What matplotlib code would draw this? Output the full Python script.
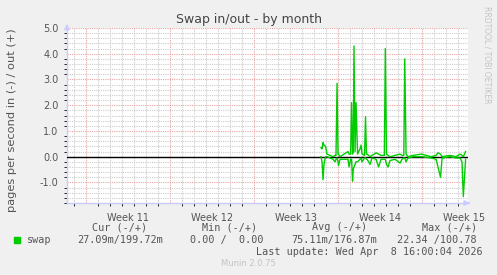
import numpy as np
import matplotlib.pyplot as plt
from matplotlib.ticker import MultipleLocator

# time in days since the start of week 11
days = [19.58, 19.67, 19.75, 19.83, 19.96, 20.08, 20.58, 20.75, 20.83, 20.92,
        21.0, 21.04, 21.17, 21.83, 21.92, 22.05, 22.13, 22.21, 22.27, 22.33,
        22.42, 22.5, 22.63, 22.83, 22.92, 23.0, 23.21, 23.29, 23.37, 23.42,
        23.67, 23.83, 24.17, 24.38, 24.58, 24.86, 24.94, 25.04, 25.17, 25.33,
        25.75, 26.17, 26.33, 26.48, 26.56, 26.67, 26.83, 27.25, 27.96, 28.75,
        29.17, 29.33, 29.54, 29.67, 30.33, 30.83, 31.17, 31.33, 31.44, 31.63]
swap_out = [0.35, 0.3, 0.55, 0.45, 0.4, 0.1, 0.0, 0.05, 0.05, 2.85,
            0.1, 0.1, 0.0, 0.2, 0.1, 0.1, 2.1, 0.1, 0.2, 4.3,
            0.2, 2.1, 0.1, 0.3, 0.45, 0.1, 0.05, 1.55, 0.1, 0.1,
            0.0, 0.05, 0.15, 0.1, 0.05, 0.05, 4.2, 0.1, 0.05, 0.0,
            0.05, 0.1, 0.05, 0.05, 3.8, 0.1, 0.0, 0.05, 0.1, 0.0,
            0.05, 0.15, 0.1, 0.0, 0.05, 0.0, 0.1, 0.05, 0.0, 0.2]
swap_in = [0.0, 0.2, 0.9, 0.3, 0.0, 0.0, 0.1, 0.2, 0.1, 0.05,
           0.2, 0.35, 0.1, 0.1, 0.4, 0.1, 0.1, 0.95, 0.5, 0.4,
           0.3, 0.2, 0.2, 0.1, 0.05, 0.2, 0.05, 0.05, 0.1, 0.1,
           0.3, 0.05, 0.1, 0.4, 0.1, 0.1, 0.1, 0.3, 0.4, 0.15,
           0.1, 0.25, 0.1, 0.05, 0.05, 0.2, 0.05, 0.0, 0.0, 0.05,
           0.1, 0.4, 0.8, 0.05, 0.0, 0.05, 0.05, 0.2, 1.55, 0.1]

week_labels = ['Week 11', 'Week 12', 'Week 13', 'Week 14', 'Week 15']
y_ticks = [-1.0, 0.0, 1.0, 2.0, 3.0, 4.0, 5.0]

txt = '#555555'
mono = 'DejaVu Sans Mono'

fig = plt.figure(figsize=(4.97, 2.75), dpi=100, facecolor='#f0f0f0')
ax = fig.add_axes([67 / 497, 1 - 203 / 275, 401 / 497, 175 / 275])
ax.set_facecolor('white')
ax.set_xlim(-1.583, 31.83)
ax.set_ylim(-1.8, 5.0)

# grid
ax.xaxis.set_minor_locator(MultipleLocator(1))
ax.yaxis.set_minor_locator(MultipleLocator(0.2))
ax.set_xticks([0, 7, 14, 21, 28])
ax.set_yticks(y_ticks)
ax.grid(which='minor', color='#cccccc', linestyle=(0, (1, 1)), lw=0.8)
ax.grid(which='major', color='#eaa4a4', linestyle=(0, (1, 1)), lw=0.8)
ax.set_axisbelow(True)

ax.axhline(0, color='black', lw=1.0, zorder=3)
ax.plot(days, swap_out, color='#00cc00', lw=1.0, zorder=4)
ax.plot(days, -np.array(swap_in), color='#00cc00', lw=1.0, zorder=4)

for s in ['top', 'right']:
    ax.spines[s].set_visible(False)
for s in ['left', 'bottom']:
    ax.spines[s].set_color('#c8ccff')
    ax.spines[s].set_linewidth(1.0)
ax.annotate('', xy=(0, 1.04), xytext=(0, 0.98), xycoords='axes fraction',
            arrowprops=dict(arrowstyle='-|>', color='#c8ccff', lw=1, mutation_scale=8),
            annotation_clip=False)
ax.annotate('', xy=(1.012, 0), xytext=(0.995, 0), xycoords='axes fraction',
            arrowprops=dict(arrowstyle='-|>', color='#c8ccff', lw=1, mutation_scale=8),
            annotation_clip=False)

ax.tick_params(length=0, labelsize=7, colors=txt, pad=6)
ax.set_xticklabels([])
ax.set_yticklabels(['%.1f' % v for v in y_ticks])
for i, lab in enumerate(week_labels):
    ax.text(3.5 + 7 * i, -0.055, lab, transform=ax.get_xaxis_transform(),
            ha='center', va='top', fontsize=7, color=txt)

fig.text(0.5, 1 - 19 / 275, 'Swap in/out - by month', ha='center', va='center',
         fontsize=9, color='#444444')
fig.text(12 / 497, 1 - 120 / 275, 'pages per second in (-) / out (+)',
         rotation=90, ha='center', va='center', fontsize=8.2, color=txt)
fig.text(487 / 497, 1 - 6 / 275, 'RRDTOOL / TOBI OETIKER', rotation=270,
         ha='center', va='top', fontsize=5.5, color='#c4c4c4')

# legend block
fs = 7.3
hy = 1 - 227 / 275
ry = 1 - 240 / 275
for cx, head in [(120, 'Cur (-/+)'), (230, 'Min (-/+)'),
                 (340, 'Avg (-/+)'), (450, 'Max (-/+)')]:
    fig.text(cx / 497, hy, head, ha='center', va='center', family=mono,
             fontsize=fs, color=txt)
for x0, val in [(163, '27.09m/199.72m'), (263, '0.00 /  0.00'),
                (377, '75.11m/176.87m'), (477, '22.34 /100.78')]:
    fig.text(x0 / 497, ry, val, ha='right', va='center', family=mono,
             fontsize=fs, color=txt)
fig.patches.append(plt.Rectangle((14 / 497, 1 - 243 / 275), 6 / 497, 6 / 275,
                                 transform=fig.transFigure, color='#00cc00'))
fig.text(27 / 497, ry, 'swap', ha='left', va='center', family=mono,
         fontsize=fs, color=txt)
fig.text(483 / 497, 1 - 252 / 275, 'Last update: Wed Apr  8 16:00:04 2026',
         ha='right', va='center', family=mono, fontsize=fs, color=txt)
fig.text(248 / 497, 1 - 264 / 275, 'Munin 2.0.75', ha='center', va='center',
         fontsize=6, color='#c4c4c4')

fig.savefig('out.png', dpi=100, facecolor=fig.get_facecolor())
